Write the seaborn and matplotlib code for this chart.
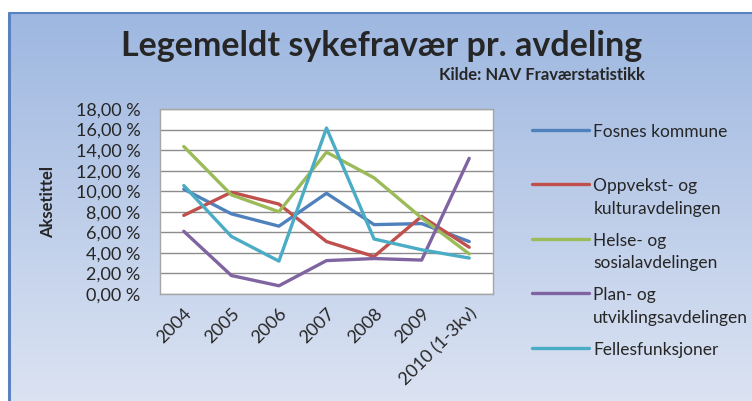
import numpy as np
import pandas as pd
import seaborn as sns
import matplotlib.pyplot as plt
from matplotlib.ticker import FuncFormatter, MultipleLocator
from matplotlib.offsetbox import HPacker

years = ['2004', '2005', '2006', '2007', '2008', '2009', '2010 (1-3kv)']
fosnes = [10.2, 7.8, 6.6, 9.8, 6.75, 6.85, 5.1]
oppvekst = [7.65, 9.9, 8.75, 5.1, 3.65, 7.55, 4.55]
helse = [14.35, 9.65, 8.0, 13.8, 11.3, 7.4, 3.9]
plan = [6.1, 1.8, 0.8, 3.25, 3.45, 3.3, 13.2]
felles = [10.55, 5.6, 3.2, 16.15, 5.35, 4.3, 3.5]

names = ['Fosnes kommune', 'Oppvekst- og\nkulturavdelingen', 'Helse- og\nsosialavdelingen',
         'Plan- og\nutviklingsavdelingen', 'Fellesfunksjoner']
colors = ['#4F81BD', '#C0504D', '#9BBB59', '#8064A2', '#4BACC6']

rows = []
for name, vals in zip(names, [fosnes, oppvekst, helse, plan, felles]):
    for y, v in zip(years, vals):
        rows.append({'aar': y, 'verdi': v, 'avdeling': name})
df = pd.DataFrame(rows)

sns.set_style('white')
plt.rcParams['font.family'] = ['Lato', 'DejaVu Sans']

fig = plt.figure(figsize=(7.52, 4.01), dpi=100)

# background with gradient
bg = fig.add_axes([0, 0, 1, 1], zorder=-5)
bg.set_xlim(0, 752)
bg.set_ylim(401, 0)
bg.axis('off')
grad = np.linspace(0, 1, 256).reshape(-1, 1)
top = np.array([0.62, 0.72, 0.88])
bot = np.array([0.86, 0.89, 0.95])
img = top + (bot - top) * grad[:, :, None]
bg.imshow(img, extent=[9, 752, 401, 13], aspect='auto')
bg.plot([9, 9], [13, 401], color='#5A82C0', lw=2.2)
bg.plot([9, 752], [13, 13], color='#5A82C0', lw=1.5)

ax = fig.add_axes([160 / 752, 1 - 294 / 401, 333 / 752, 185 / 401])
ax.set_facecolor('white')
sns.lineplot(data=df, x='aar', y='verdi', hue='avdeling', palette=colors,
             linewidth=2.4, ax=ax, sort=False)
ax.set_xlim(-0.5, 6.5)
ax.set_ylim(0, 18)
ax.yaxis.set_major_locator(MultipleLocator(2))
ax.yaxis.set_major_formatter(FuncFormatter(lambda v, p: f'{v:.2f}'.replace('.', ',') + ' %'))
ax.grid(axis='y', color='#8C8C8C', lw=1)
ax.set_axisbelow(True)
for s in ax.spines.values():
    s.set_color('#A6A6A6')
    s.set_linewidth(1)
ax.tick_params(axis='y', labelsize=13, pad=14, length=0)
ax.tick_params(axis='x', labelsize=13, length=0, pad=8)
for lab in ax.get_xticklabels():
    lab.set_rotation(45)
    lab.set_ha('right')
    lab.set_rotation_mode('anchor')
ax.set_xlabel('')
ax.set_ylabel('Aksetittel', fontsize=12, fontweight='bold', labelpad=14)

handles, labels = ax.get_legend_handles_labels()
ax.legend_.remove()
# excel gives the first entry two lines of room too
labels[0] = labels[0] + '\n '
leg = fig.legend(handles, labels, loc='upper left', bbox_to_anchor=(516 / 752, 1 - 108 / 401),
                 frameon=False, fontsize=12.5, handlelength=3.3, handletextpad=0.25,
                 labelspacing=0.92)
for t in leg.get_texts():
    t.set_linespacing(1.5)
# line handle next to first text line
try:
    for col in leg._legend_handle_box.get_children():
        for item in col.get_children():
            if isinstance(item, HPacker):
                item.align = 'top'
except AttributeError:
    pass

fig.text(382 / 752, 1 - 46 / 401, 'Legemeldt sykefravær pr. avdeling', ha='center', va='center',
         fontsize=24.5, fontweight='bold')
fig.text(645 / 752, 1 - 75 / 401, 'Kilde: NAV Fraværstatistikk', ha='right', va='center',
         fontsize=12, fontweight='bold')

fig.savefig('out.png', dpi=100)
